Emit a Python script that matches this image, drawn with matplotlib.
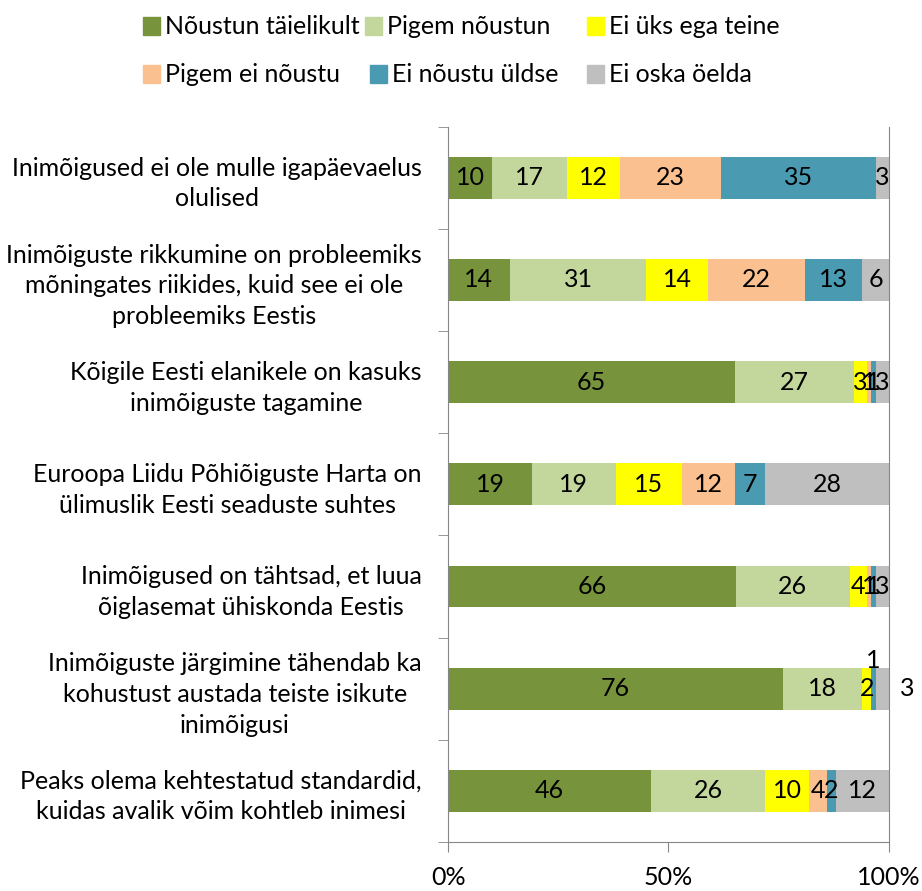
import numpy as np
import matplotlib
matplotlib.use("Agg")
import matplotlib.pyplot as plt
from matplotlib.patches import Rectangle

plt.rcParams['font.family'] = ['Lato', 'DejaVu Sans']

categories = [
    "Inimõigused ei ole mulle igapäevaelus\nolulised",
    "Inimõiguste rikkumine on probleemiks\nmõningates riikides, kuid see ei ole\nprobleemiks Eestis",
    "Kõigile Eesti elanikele on kasuks\ninimõiguste tagamine",
    "Euroopa Liidu Põhiõiguste Harta on\nülimuslik Eesti seaduste suhtes",
    "Inimõigused on tähtsad, et luua\nõiglasemat ühiskonda Eestis",
    "Inimõiguste järgimine tähendab ka\nkohustust austada teiste isikute\ninimõigusi",
    "Peaks olema kehtestatud standardid,\nkuidas avalik võim kohtleb inimesi",
]
series = ["Nõustun täielikult", "Pigem nõustun", "Ei üks ega teine",
          "Pigem ei nõustu", "Ei nõustu üldse", "Ei oska öelda"]
noustun_taielikult = [10, 14, 65, 19, 66, 76, 46]
pigem_noustun = [17, 31, 27, 19, 26, 18, 26]
ei_uks_ega_teine = [12, 14, 3, 15, 4, 2, 10]
pigem_ei_noustu = [23, 22, 1, 12, 1, 0, 4]
ei_noustu_uldse = [35, 13, 1, 7, 1, 1, 2]
ei_oska_oelda = [3, 6, 3, 28, 3, 3, 12]
colors = ["#77933C", "#C3D69B", "#FFFF00", "#FAC090", "#4A9BB2", "#BFBFBF"]

values = np.array([noustun_taielikult, pigem_noustun, ei_uks_ega_teine,
                   pigem_ei_noustu, ei_noustu_uldse, ei_oska_oelda], dtype=float)
# 100% stacked: each row is scaled to its own total
shares = values / values.sum(axis=0) * 100

# labels that were pushed outside the bar (row, series) -> offset in points
label_offsets = {(5, 4): (0, 20), (5, 5): (8, 0)}

fig = plt.figure(figsize=(9.22, 8.91), dpi=100)
ax = fig.add_axes([0.486, 0.055, 0.478, 0.803])

y = np.arange(len(categories))
left = np.zeros(len(categories))
for i, name in enumerate(series):
    ax.barh(y, shares[i], left=left, height=0.41, color=colors[i], linewidth=0)
    for j in range(len(categories)):
        v = values[i, j]
        if v == 0:
            continue
        cx = left[j] + shares[i, j] / 2
        dx, dy = label_offsets.get((j, i), (0, 0))
        if dx:
            cx = 100
        ax.annotate(f"{int(v)}", (cx, y[j]), xytext=(dx, dy), textcoords="offset points",
                    ha="left" if dx else "center", va="center", fontsize=18, color="black")
    left += shares[i]

ax.set_xlim(0, 100)
ax.set_ylim(len(categories) - 0.5, -0.5)
ax.set_xticks([0, 50, 100])
ax.set_xticklabels(["0%", "50%", "100%"], fontsize=18)
ax.set_yticks(y)
ax.set_yticklabels(categories, fontsize=18, multialignment="center", linespacing=1.4)
ax.set_yticks(np.arange(-0.5, len(categories)), minor=True)
ax.tick_params(axis="y", which="major", length=0, pad=19)
ax.tick_params(axis="y", which="minor", length=7, color="#868686", direction="out")
ax.tick_params(axis="x", length=7, color="#868686", pad=10)
ax.spines["top"].set_visible(False)
for s in ["left", "bottom", "right"]:
    ax.spines[s].set_color("#868686")

# legend, two rows of three (square left edges in pixels)
legend_px = [(143, 26), (365, 26), (587, 26), (143, 74), (370, 74), (587, 74)]
sq = 17
for (px, py), name, c in zip(legend_px, series, colors):
    lx, ly = px / 922, 1 - py / 891
    fig.patches.append(Rectangle((lx, ly - sq / 891 / 2), sq / 922, sq / 891, color=c,
                                 transform=fig.transFigure, figure=fig))
    fig.text(lx + (sq + 5) / 922, ly, name, fontsize=18, va="center", ha="left")

fig.savefig("out.png", dpi=100)
